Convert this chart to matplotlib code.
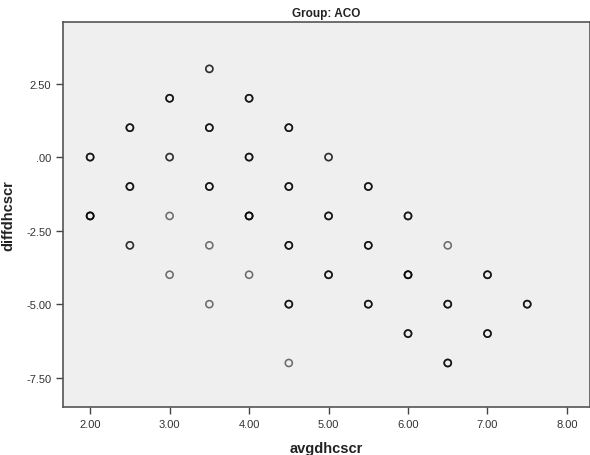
import numpy as np
import matplotlib
matplotlib.use("Agg")
import matplotlib.pyplot as plt
from matplotlib.ticker import FuncFormatter

# average score (x), difference (y) and number of cases at each spot
avg_x = [3.5,
         3.0, 4.0,
         2.5, 3.5, 4.5,
         2.0, 3.0, 4.0, 5.0,
         2.5, 3.5, 4.5, 5.5,
         2.0, 3.0, 4.0, 5.0, 6.0,
         2.5, 3.5, 4.5, 5.5, 6.5,
         3.0, 4.0, 5.0, 6.0, 7.0,
         3.5, 4.5, 5.5, 6.5, 7.5,
         6.0, 7.0,
         4.5, 6.5]
diff_y = [3,
          2, 2,
          1, 1, 1,
          0, 0, 0, 0,
          -1, -1, -1, -1,
          -2, -2, -2, -2, -2,
          -3, -3, -3, -3, -3,
          -4, -4, -4, -4, -4,
          -5, -5, -5, -5, -5,
          -6, -6,
          -7, -7]
n_cases = [2,
           3, 3,
           3, 3, 3,
           3, 2, 3, 2,
           3, 3, 3, 3,
           4, 1, 4, 3, 3,
           2, 1, 3, 3, 1,
           1, 1, 3, 4, 3,
           1, 3, 3, 3, 3,
           3, 3,
           1, 3]

x_ticks = [2, 3, 4, 5, 6, 7, 8]
y_ticks = [2.5, 0, -2.5, -5, -7.5]

plt.rcParams["font.family"] = ["Liberation Sans", "DejaVu Sans"]

fig = plt.figure(figsize=(5.9, 4.56), dpi=100)
ax = fig.add_axes([0.107, 0.105, 0.893, 0.845])
ax.set_facecolor("#efefef")

# one circle per case, overlapping ones get darker
xs = np.repeat(avg_x, n_cases)
ys = np.repeat(diff_y, n_cases)
ax.scatter(xs, ys, s=26, facecolors="none", edgecolors=(0, 0, 0, 0.55), linewidths=1.15)

ax.set_xlim(1.66, 8.29)
ax.set_ylim(-8.5, 4.6)
ax.set_xticks(x_ticks)
ax.set_yticks(y_ticks)


def fmt(v, pos):
    s = f"{v:.2f}"
    if s.startswith("0."):
        s = s[1:]
    elif s.startswith("-0."):
        s = s[2:]
    return s


ax.xaxis.set_major_formatter(FuncFormatter(fmt))
ax.yaxis.set_major_formatter(FuncFormatter(fmt))
ax.tick_params(direction="out", length=5, width=1, colors="#444444", labelsize=8,
               labelcolor="#333333")

for side in ["left", "bottom", "top", "right"]:
    ax.spines[side].set_color("#555555")
    ax.spines[side].set_linewidth(1.2)

ax.set_title("Group: ACO", fontsize=8.5, fontweight="bold", color="#222222", pad=4)
ax.set_xlabel("avgdhcscr", fontsize=10.5, fontweight="bold", color="#222222", labelpad=9)
ax.set_ylabel("diffdhcscr", fontsize=10.5, fontweight="bold", color="#222222", labelpad=8)

fig.savefig("out.png", dpi=100)
